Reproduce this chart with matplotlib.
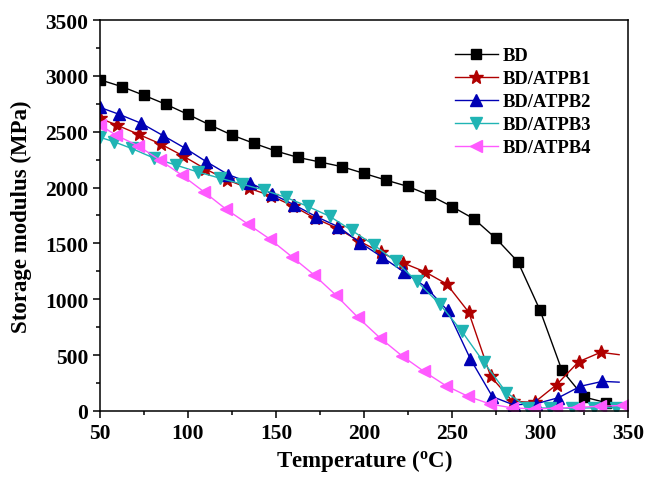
import numpy as np
import matplotlib.pyplot as plt
from matplotlib.ticker import MultipleLocator

plt.rcParams['font.family'] = ['Liberation Serif', 'DejaVu Serif']
plt.rcParams['font.weight'] = 'bold'
plt.rcParams['mathtext.default'] = 'regular'

# ---- storage modulus vs temperature (DMA) ----
# last entry of each series (except BD/ATPB4) is the line end, drawn without a marker
T_bd = [50, 62.5, 75, 87.5, 100, 112.5, 125, 137.5, 150, 162.5, 175, 187.5,
        200, 212.5, 225, 237.5, 250, 262.5, 275, 287.5, 300, 312.5, 325, 337.5, 348]
E_bd = [2965, 2903, 2826, 2745, 2655, 2560, 2470, 2396, 2327, 2270, 2229, 2187,
        2127, 2067, 2010, 1930, 1830, 1720, 1545, 1335, 904, 364, 125, 75, 55]

T_1 = [50, 59.5, 72, 84.5, 97, 109.5, 122, 134.5, 147, 159.5, 172, 184.5,
       197, 209.5, 222, 234.5, 247, 259.5, 272, 284.5, 297, 309.5, 322, 334.5, 345]
E_1 = [2620, 2560, 2476, 2390, 2285, 2170, 2070, 1995, 1927, 1837, 1727, 1638,
       1524, 1420, 1327, 1247, 1137, 885, 310, 85, 78, 236, 441, 525, 504]

T_2 = [50, 61, 73.5, 86, 98.5, 110.5, 123, 135.5, 148, 160.5, 173, 185.5,
       198, 210.5, 222.5, 235, 247.5, 260.5, 273, 285, 298, 310.5, 323, 335.5, 345]
E_2 = [2718, 2655, 2575, 2464, 2351, 2231, 2115, 2041, 1942, 1844, 1739, 1649,
       1504, 1376, 1247, 1112, 900, 465, 128, 55, 65, 119, 221, 265, 258]

T_3 = [50, 58, 68, 80.5, 93, 105.5, 118, 130.5, 143, 155.5, 168, 180.5,
       193, 205.5, 218, 230, 243, 255.5, 268, 281, 293.5, 306, 318.5, 331, 343.5, 350]
E_3 = [2450, 2410, 2350, 2265, 2202, 2140, 2085, 2032, 1978, 1913, 1832, 1743,
       1617, 1488, 1340, 1161, 958, 716, 438, 164, 30, 25, 25, 28, 30, 30]

T_4 = [50, 59, 71.5, 84, 96.5, 109, 121.5, 134, 146.5, 159, 171.5, 184,
       196.5, 209, 221.5, 234, 246.5, 259, 271.5, 284, 296.5, 309, 321.5, 334, 347]
E_4 = [2560, 2470, 2375, 2246, 2112, 1963, 1808, 1674, 1539, 1381, 1220, 1038,
       839, 656, 495, 355, 227, 132, 63, 28, 18, 25, 33, 42, 50]

fig = plt.figure(figsize=(6.48, 4.81), dpi=100)
ax = fig.add_axes([0.1543, 0.1435, 0.8147, 0.8128])

no_end = slice(0, -1)
ax.plot(T_bd, E_bd, '-s', color='black', lw=1, ms=6.8, markevery=no_end, label='BD')
ax.plot(T_1, E_1, '-*', color='#b00000', lw=1, ms=10, markevery=no_end, label='BD/ATPB1')
ax.plot(T_2, E_2, '-^', color='#0000b4', lw=1, ms=8, markevery=no_end, label='BD/ATPB2')
ax.plot(T_3, E_3, '-v', color='#20b4b4', lw=1, ms=8, markevery=no_end, label='BD/ATPB3')
ax.plot(T_4, E_4, '-<', color='#ff5aff', lw=1, ms=8, label='BD/ATPB4')

ax.set_xlim(50, 350)
ax.set_ylim(0, 3500)
ax.xaxis.set_major_locator(MultipleLocator(50))
ax.xaxis.set_minor_locator(MultipleLocator(25))
ax.yaxis.set_major_locator(MultipleLocator(500))
ax.yaxis.set_minor_locator(MultipleLocator(250))
ax.tick_params(which='major', direction='out', length=5, width=1.1, labelsize=15.5)
ax.tick_params(which='minor', direction='out', length=3, width=1.1)
for s in ax.spines.values():
    s.set_linewidth(1.1)

ax.set_xlabel('Temperature ($^\\mathregular{o}$C)', fontsize=16.5, fontweight='bold', labelpad=3)
ax.set_ylabel('Storage modulus (MPa)', fontsize=16.5, fontweight='bold', labelpad=9)

ax.legend(loc='upper left', bbox_to_anchor=(0.672, 0.93), frameon=False,
          fontsize=13.4, borderpad=0, borderaxespad=0, handlelength=2.3,
          handletextpad=0.3, labelspacing=0.32)

fig.savefig('out.png', dpi=100)
